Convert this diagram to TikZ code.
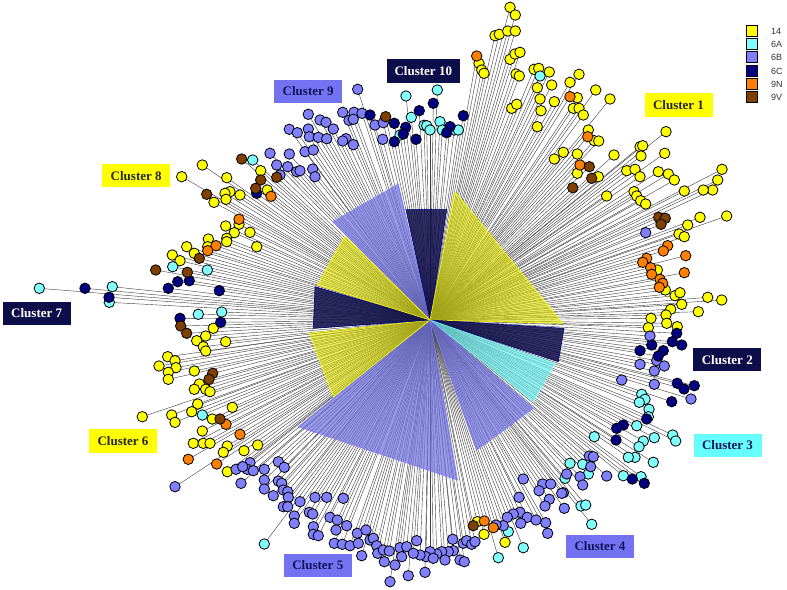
\documentclass[tikz,border=0pt]{standalone}
\usepackage{fontspec}
\setmainfont{Liberation Serif}
\newfontfamily\legfont{Liberation Sans}
\definecolor{cY}{HTML}{FFFF00}
\definecolor{cC}{HTML}{80FFFF}
\definecolor{cB}{HTML}{8080FF}
\definecolor{cN}{HTML}{000080}
\definecolor{cO}{HTML}{FF8000}
\definecolor{cV}{HTML}{7F3F00}
\definecolor{boxN}{HTML}{0D0D4A}
\definecolor{boxB}{HTML}{7373F2}
\definecolor{boxC}{HTML}{66FFFF}
\definecolor{txtN}{HTML}{14145A}
\definecolor{linkgray}{HTML}{404040}
\tikzset{
  link/.style={draw=linkgray, line width=0.42pt},
  leaf/.style={circle, draw=black, line width=0.8pt, minimum size=10.5pt, inner sep=0pt},
  lab/.style={minimum width=68pt, minimum height=23.5pt, inner sep=0pt, font=\fontsize{13}{15}\selectfont\bfseries},
  legbox/.style={draw=black, line width=0.8pt, minimum size=11pt, inner sep=0pt},
  legtxt/.style={anchor=west, inner sep=0pt, font=\legfont\fontsize{9}{10}\selectfont, text=black!80},
  wedgeY/.style={fill=cY!88!black, fill opacity=0.62, draw=cY, line width=0.6pt},
  wedgeN/.style={fill=boxN, fill opacity=0.85, draw=cN, line width=0.6pt},
  wedgeB/.style={fill=cB!88!black, fill opacity=0.72, draw=cB, line width=0.6pt},
  wedgeC/.style={fill=cC!85!teal, fill opacity=0.72, draw=cC, line width=0.6pt}
}
\def\listY{(510,7.3),(515.3,15),(495,35.7),(499.3,34.3),(507.7,31),(515.3,31),
(479,63.3),(481.7,70),(484,73.3),(510,59.3),(515,54),(520,52.3),(516,74),(519.3,76),
(534,69.3),(538.7,68.3),(549.3,72),(537.3,87.7),(551.7,85),(540,99),(554.3,101.7),(541,110.7),(537.3,126.7),(511.7,108.3),(516.7,104.3),
(579,74.3),(570,82.3),(595.7,90),(610,99),(577.3,97.7),(573.3,108.3),(579,108.3),(583.3,115),
(588.3,130),(594.3,140.7),(598.7,141),(614,155),(563.3,152.3),(554.3,159),(577.3,154),(577.3,173.3),(598.3,176.7),
(626.7,170.7),(635,169.3),(640,176.7),(634,191.7),(606.7,196),(640,146.7),
(666,131.7),(642.7,145.7),(641,156),(664.7,153.3),(658.3,171.7),(668.3,174),(674.3,180),
(636.7,196),(640.7,200.7),(645.7,204),
(684.3,191),(722,169.3),(717.7,180),(712.7,190),(703.3,190),(726.7,216),(700,217.3),(687.7,225),(679,234),(684.3,236.7),
(657.3,270),(665.3,290),(675,295.7),(680,292.7),(681.7,304.3),(707.7,297.3),(721.7,300),(698.3,311.7),(670.7,309.3),(666,315),(651,318.3),
(666.7,323.3),(677.3,326.7),(648.3,327.7),
(477.3,521.7),(484,534.3),(505,542.3),
(197.7,404),(191.7,411.7),(171.7,415),(175,422.3),(212.3,419),(232.3,407.3),(202.3,431),(193.3,443.3),(203.3,443.3),(210,443.3),(227.3,446),(223.3,452.3),(244,450.7),(257.7,445),(227.3,471.7),
(213.3,328.3),(205.7,336),(196.7,340.7),(225.7,341.7),(203.3,346.7),(205.7,351),(167.7,356.7),(175,360.7),(159,366),(176,367.7),(168.3,372.3),(168.3,379.3),(194.3,371),(199.3,384),(194.3,389.3),(205.7,389.3),(210,391.7),(142.3,416.7),
(202.3,165),(181.7,176.7),(260.7,170.7),(226.7,177.7),(230,191.7),(225,193.3),(240,195),(226,199.3),(214,202.3),(267.3,190),(239,224.3),(225.7,226),(234.3,232.7),(250,232.3),(226.7,238.3),(226.7,241.7),(208.3,239),(207.7,246.7),(186.7,246.7),(194.3,253.3),(256.7,246.7),(172.3,255),(180,260.7)}
\def\listC{(406,96),(437.3,90),(411.3,117.3),(400,135),(424,125.3),(426.7,125.7),(430,130),(440,121.7),(442.3,130),(454.3,130),(458.3,130),(540,76),
(641.7,394.3),(645,399.3),(639.3,402.3),(649,409.3),(648.3,416.7),(636.7,425.7),(594.3,436.7),(643.3,441),(639,446.7),(654.3,437.7),(672.7,435),(675.7,441),(635,457.3),(628.3,457.3),(653.3,462.3),(570,463.3),(582.7,464.3),(588.3,474),(623.3,475.7),(641,476.7),
(565,478.3),(581,506),(585.7,505),(591.7,524.3),(508.3,531.7),(523.3,547.7),(498.3,557.7),(264.3,544),
(202.3,415),(252.7,160),(172.7,266.7),(207.3,270),(112.3,286.7),(109.3,302.3),(39.3,288.3),(198.3,314.3),(221.7,312)}
\def\listB{(357.7,89.3),(308.3,114.3),(320,120),(326,122.3),(333.3,129),(342.7,112.3),(354,112.3),(362,113.3),(349,120.3),(353.3,119.3),(375,125),(383.3,122.7),(382.7,139.3),(289.3,129.3),(297.3,132.7),(308.3,129),(309.3,136.7),(318.3,137.3),(326.7,138.7),(346,138.7),(342.7,141),(353.3,144.7),(289.3,154),(305,151.7),(313.3,150),(276.7,165),(287.7,166.7),(296.7,171.7),(300,170.7),(312.7,169),(315,176.7),(280,175),(270,153.3),
(645.7,232.7),(650,336),(656.7,360.7),(664.3,366),(640,364.3),(654.3,371),(621.7,380),(654.3,384.3),(691,399),(589.3,456),(593.3,456.7),(590.7,466.7),(566.7,474),(580,476.7),(582.7,485),(606.7,476),(563.3,492.7),
(523.3,479),(542.7,484),(550.7,484),(539,490.7),(561.7,493.3),(519,497.3),(549.3,499.3),(545,506),(564.3,508.3),(520,512.3),(513.3,514),(507.3,517.3),(527.3,517.3),(536,520),(545.7,522.7),(547.7,533.3),(520.7,523.3),(503.3,525.7),(496,525),(452.7,539.3),(463.3,543.3),(466.7,540.7),(471.7,544.3),(475,541.7),(453.3,550.7),(448.3,551.7),(441.7,551.7),(436.7,554),(430,551.7),(426,556.7),(433.3,558.3),(420,555),(445,560),(460,560),(464.3,561.7),(425,572.3),
(175,486.7),(236,469.3),(250,462.7),(247.3,469.3),(253.3,470.7),(241,483.3),(264.3,469.3),(278.3,461.7),(284.3,467.3),(264.3,480),(278.3,481),(281.7,483.3),(264.3,489),(283.3,490),(287.7,491.7),(288.3,497.3),(273.3,495.7),(300,501.7),(315,497.3),(326.7,497.3),(343.3,498.3),(283.3,506.7),(287.7,506.7),(294.3,516),(294.3,523.3),(309.3,512.3),(312.7,514),(330,517.3),(337.3,520),(346.7,525.7),(313.3,526.7),(313.3,534.3),(318.3,535.7),(336,530),(357.3,533.3),(366,530),(334.3,543.3),(342.3,544.3),(350,545.7),(358.3,543.3),(370,540),(373.3,538.3),(376.7,545.7),(361.7,555.7),(377.7,553.3),(383.3,550),(389.3,551),(400,547.7),(406.7,546.7),(401.7,556.7),(413.3,553.3),(416.7,540.7),(384.3,561.7),(395,565),(390,581.7),(408.3,575.7),(242.7,466.7)}
\def\listN{(370,115),(394.3,123.3),(433.3,103.3),(419.3,110.7),(463.3,115.7),(405.7,127.3),(403.3,134),(394.3,141.7),(416,139.3),(450,126.7),(446.7,132.7),
(676.7,333.3),(672.3,341.7),(681.7,345),(651.7,345),(640,350.7),(663.3,350.7),(658.3,356),(677.3,383.3),(684,389),(694.3,385.7),(671.7,401.7),(646.7,419),(623.3,425),(616.7,428.3),(616,440),(632.3,479),(644.3,483.3),
(256.7,193.3),(189.3,280.7),(177.7,281.7),(168.3,288.3),(219.3,290.7),(85,288.3),(109,297.3),(180,318.3),(220.7,322.3)}
\def\listO{(476.7,56),(570,96.7),(587.7,136.7),(580,165),(271,196.3),
(667.7,245.7),(663.3,251),(685.7,255.7),(646.7,258.3),(642.7,262.3),(650.7,267.7),(651.7,274.3),(684.3,272.7),(660,279.3),(662.7,283.3),(659.3,287.3),
(484.3,521),(493.3,527.7),
(226,424.3),(240,434.3),(188.3,459.3),(216.7,464),(239,219.3),(216,245.7),(207.7,250.7)}
\def\listV{(385.7,116.7),(589.3,166.7),(591.7,178.3),(572.7,187.7),(658.7,217.3),(665.3,218.3),(661,224.3),(473.3,525.7),(220,419),(241.7,159),(260.7,180),(206.7,194.3),(255.7,188.3),(199.3,258.3),(155.7,270),(187.3,272.3),(180.7,326),(186.7,333.3),(212.7,373.3),(209,379.3),(276.7,177.3)}
\begin{document}
\begin{tikzpicture}[x=1pt,y=-1pt]
\useasboundingbox (0,0) rectangle (787,589);
\coordinate (c) at (430,320);

% ---------------- connectors ----------------
\foreach \p [count=\i] in \listY {\path \p coordinate (pY\i); \draw[link] (c) -- (pY\i);}
\foreach \p [count=\i] in \listC {\path \p coordinate (pC\i); \draw[link] (c) -- (pC\i);}
\foreach \p [count=\i] in \listB {\path \p coordinate (pB\i); \draw[link] (c) -- (pB\i);}
\foreach \p [count=\i] in \listN {\path \p coordinate (pN\i); \draw[link] (c) -- (pN\i);}
\foreach \p [count=\i] in \listO {\path \p coordinate (pO\i); \draw[link] (c) -- (pO\i);}
\foreach \p [count=\i] in \listV {\path \p coordinate (pV\i); \draw[link] (c) -- (pV\i);}

% ---------------- wedges ----------------
\path[wedgeB] (c) -- (332.7,221.7) -- (398.3,184) -- cycle;
\path[wedgeN] (c) -- (406,209.3) -- (446.7,209.3) -- cycle;
\path[wedgeY] (c) -- (455,191.7) -- (562.7,323.3) -- cycle;
\path[wedgeN] (c) -- (564,328.3) -- (558.3,361.7) -- cycle;
\path[wedgeC] (c) -- (555,363.3) -- (533.3,401.7) -- cycle;
\path[wedgeB] (c) -- (533.3,408.3) -- (476.7,450) -- cycle;
\path[wedgeB] (c) -- (457.5,480) -- (298.3,426.7) -- cycle;
\path[wedgeY] (c) -- (309.3,333.3) -- (333.3,396.7) -- cycle;
\path[wedgeN] (c) -- (315,286.7) -- (313.3,328.3) -- cycle;
\path[wedgeY] (c) -- (317.3,285) -- (345,236) -- cycle;

% ---------------- leaves ----------------
\foreach \p [count=\i] in \listY {\node[leaf, fill=cY] (Y\i) at (pY\i) {};}
\foreach \p [count=\i] in \listC {\node[leaf, fill=cC] (C\i) at (pC\i) {};}
\foreach \p [count=\i] in \listB {\node[leaf, fill=cB] (B\i) at (pB\i) {};}
\foreach \p [count=\i] in \listN {\node[leaf, fill=cN] (N\i) at (pN\i) {};}
\foreach \p [count=\i] in \listO {\node[leaf, fill=cO] (O\i) at (pO\i) {};}
\foreach \p [count=\i] in \listV {\node[leaf, fill=cV] (V\i) at (pV\i) {};}

% ---------------- cluster labels ----------------
\node[lab, fill=boxN, text=white, minimum width=73pt] (l10) at (423.3,70.8) {Cluster 10};
\node[lab, fill=boxB, text=txtN] (l9) at (308.2,91.3) {Cluster 9};
\node[lab, fill=cY, text=black!85] (l1) at (678.5,105) {Cluster 1};
\node[lab, fill=cY, text=black!85] (l8) at (136.2,175.7) {Cluster 8};
\node[lab, fill=boxN, text=white] (l7) at (36.7,313.3) {Cluster 7};
\node[lab, fill=cY, text=black!85] (l6) at (123,441) {Cluster 6};
\node[lab, fill=boxB, text=txtN] (l5) at (317.8,565.3) {Cluster 5};
\node[lab, fill=boxB, text=txtN] (l4) at (600,546.5) {Cluster 4};
\node[lab, fill=boxC, text=txtN] (l3) at (727.5,445.5) {Cluster 3};
\node[lab, fill=boxN, text=white] (l2) at (727.3,359.7) {Cluster 2};

% ---------------- legend ----------------
\node[legbox, fill=cY] (k1) at (752,30.7) {};
\node[legbox, fill=cC] (k2) at (752,44) {};
\node[legbox, fill=cB] (k3) at (752,57.3) {};
\node[legbox, fill=cN] (k4) at (752,70.7) {};
\node[legbox, fill=cO] (k5) at (752,84) {};
\node[legbox, fill=cV] (k6) at (752,97.3) {};
\node[legtxt] (t1) at (771,31) {14};
\node[legtxt] (t2) at (771,44.3) {6A};
\node[legtxt] (t3) at (771,57.6) {6B};
\node[legtxt] (t4) at (771,71) {6C};
\node[legtxt] (t5) at (771,84.3) {9N};
\node[legtxt] (t6) at (771,97.6) {9V};
\end{tikzpicture}
\end{document}
